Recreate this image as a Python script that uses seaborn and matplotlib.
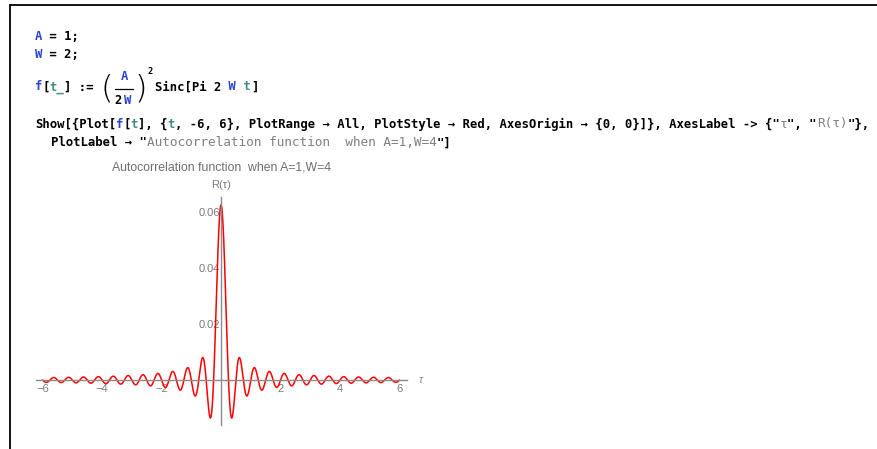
import numpy as np
import pandas as pd
import seaborn as sns
import matplotlib
matplotlib.use("Agg")
import matplotlib.pyplot as plt
from matplotlib.lines import Line2D

sns.set_style("white")
plt.rcParams["font.family"] = ["Liberation Sans", "DejaVu Sans"]

# values from the notebook cell
A = 1
W = 2
t_min, t_max = -6, 6
x_ticks = [-6, -4, -2, 2, 4, 6]
y_ticks = [0.02, 0.04, 0.06]
title = "Autocorrelation function  when A=1,W=4"
x_label = "τ"
y_label = "R(τ)"

# the plotted curve, f[t] = (A/(2W))^2 Sinc[Pi 2 W t]
t = np.linspace(t_min, t_max, 6001)
df = pd.DataFrame({"t": t, "R": (A / (2 * W)) ** 2 * np.sinc(2 * W * t)})

FW, FH = 878, 449
fig = plt.figure(figsize=(FW / 100, FH / 100), dpi=100)
renderer = fig.canvas.get_renderer()

def fx(px):
    return px / FW

def fy(py):
    return 1 - py / FH

# notebook frame
fig.add_artist(Line2D([fx(10), fx(878)], [fy(4.5), fy(4.5)], color="black", lw=1.3))
fig.add_artist(Line2D([fx(10), fx(10)], [fy(4.5), fy(449)], color="black", lw=1.3))

BLUE = "#2a44cc"
TEAL = "#3f8f86"
GRAY = "#808080"
CODE = dict(family=["DejaVu Sans Mono"], weight="bold", fontsize=8.8)
MONO = dict(family=["DejaVu Sans Mono"], fontsize=9.2)

def code_line(x0, y0, parts):
    x = x0
    for s, c, style in parts:
        tx = fig.text(fx(x), fy(y0), s, color=c, va="center", ha="left", **style)
        bb = tx.get_window_extent(renderer)
        x = bb.x1
    return x

code_line(35, 36, [("A", BLUE, CODE), (" = 1;", "black", CODE)])
code_line(35, 54, [("W", BLUE, CODE), (" = 2;", "black", CODE)])
code_line(35, 87, [("f", BLUE, CODE), ("[", "black", CODE), ("t_", TEAL, CODE),
                   ("] :=", "black", CODE)])
# (A / (2 W))^2
fig.text(fx(107), fy(88), "(", fontsize=23, family="DejaVu Sans", color="black",
         ha="center", va="center", weight="light")
fig.text(fx(141), fy(88), ")", fontsize=23, family="DejaVu Sans", color="black",
         ha="center", va="center", weight="light")
fig.text(fx(124), fy(76), "A", color=BLUE, ha="center", va="center", **CODE)
fig.add_artist(Line2D([fx(115), fx(133)], [fy(89), fy(89)], color="black", lw=0.9))
fig.text(fx(118), fy(100), "2", color="black", ha="center", va="center", **CODE)
fig.text(fx(128), fy(100), "W", color=BLUE, ha="center", va="center", **CODE)
fig.text(fx(148), fy(71), "2", color="black", ha="left", va="center",
         family=["DejaVu Sans Mono"], weight="bold", fontsize=6.3)
code_line(155, 87, [("Sinc[Pi 2", "black", CODE), (" W", BLUE, CODE),
                    (" t", TEAL, CODE), ("]", "black", CODE)])

code_line(35, 124, [("Show[{Plot[", "black", CODE), ("f", BLUE, CODE),
                    ("[", "black", CODE), ("t", TEAL, CODE),
                    ("], {", "black", CODE), ("t", TEAL, CODE),
                    (", -6, 6}, PlotRange → All, PlotStyle → Red, AxesOrigin → {0, 0}]}, AxesLabel -> {\"",
                     "black", CODE),
                    ("τ", GRAY, MONO), ("\", \"", "black", CODE),
                    ("R(τ)", GRAY, MONO), ("\"},", "black", CODE)])
code_line(51, 143, [("PlotLabel → \"", "black", CODE),
                    (title, GRAY, MONO), ("\"]", "black", CODE)])

# plot area
ax_l, ax_r, ax_t, ax_b = 36, 407, 197, 425
ax = fig.add_axes([fx(ax_l), fy(ax_b), (ax_r - ax_l) / FW, (ax_b - ax_t) / FH])
ax.set_facecolor("none")
sns.lineplot(data=df, x="t", y="R", color="red", linewidth=1.1, ax=ax)
ax.set_xlim(-6.22, 6.25)
ax.set_ylim(-0.01607, 0.06536)

AXC = "#8a8a8a"
for side in ["left", "bottom"]:
    ax.spines[side].set_position("zero")
    ax.spines[side].set_color(AXC)
    ax.spines[side].set_linewidth(1.0)
for side in ["right", "top"]:
    ax.spines[side].set_visible(False)

ax.set_xticks(x_ticks)
ax.set_yticks(y_ticks)
ax.set_yticklabels([f"{v:.2f}" for v in y_ticks])
ax.set_xticks(np.arange(-6, 6.01, 0.5), minor=True)
ax.set_yticks(np.arange(-0.015, 0.066, 0.005), minor=True)
ax.tick_params(axis="both", which="major", direction="in", length=4, width=0.8,
               color=AXC, labelcolor="#7a7a7a", labelsize=8)
ax.tick_params(axis="both", which="minor", direction="in", length=2, width=0.6,
               color=AXC)
ax.tick_params(axis="x", pad=3)
ax.tick_params(axis="y", pad=1)
ax.set_xlabel("")
ax.set_ylabel("")

ax.annotate(x_label, xy=(1, 0), xycoords=("axes fraction", "data"),
            xytext=(8, 0), textcoords="offset points", ha="left", va="center",
            color="#8a8a8a", fontsize=8, style="italic")
ax.annotate(y_label, xy=(0, 1), xycoords=("data", "axes fraction"),
            xytext=(0, 9), textcoords="offset points", ha="center", va="center",
            color="#7a7a7a", fontsize=8)

fig.text(fx(221), fy(168), title, ha="center", va="center", color="#6e6e6e",
         fontsize=8.8)

fig.savefig("out.png", dpi=100)
